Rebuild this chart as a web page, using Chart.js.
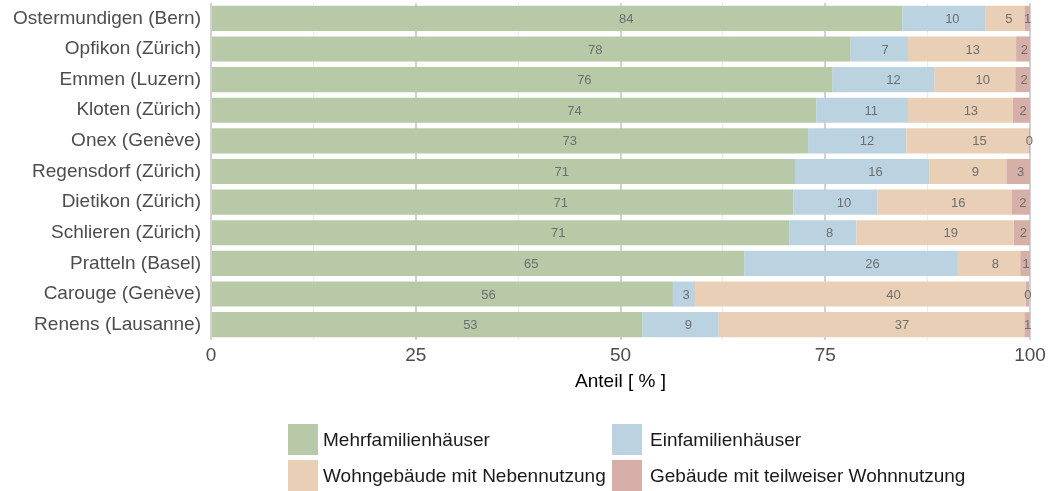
<!DOCTYPE html>
<html>
<head>
<meta charset="utf-8">
<script src="https://cdn.jsdelivr.net/npm/chart.js@4"></script>
<style>
  body { margin: 0; background: #fff; font-family: "Liberation Sans", Arial, sans-serif; }
  #wrap { position: relative; width: 1049px; height: 491px; }
  .lg-box { position: absolute; width: 30px; height: 31px; }
  .lg-txt { position: absolute; font-size: 19px; color: #1a1a1a; line-height: 31px; white-space: nowrap; }
</style>
</head>
<body>
<div id="wrap">
  <canvas id="chart" width="1049" height="491"></canvas>
  <div id="legend"></div>
</div>
<script>
const categories = [
  'Ostermundigen (Bern)', 'Opfikon (Zürich)', 'Emmen (Luzern)', 'Kloten (Zürich)',
  'Onex (Genève)', 'Regensdorf (Zürich)', 'Dietikon (Zürich)', 'Schlieren (Zürich)',
  'Pratteln (Basel)', 'Carouge (Genève)', 'Renens (Lausanne)'
];
const mehrfamilien = [84.4, 78.1, 75.9, 73.9, 72.9, 71.3, 71.1, 70.6, 65.1, 56.4, 52.7];
const einfamilien = [10.2, 7.0, 12.4, 11.2, 12.0, 16.4, 10.3, 8.2, 26.1, 2.7, 9.3];
const nebennutzung = [4.7, 13.2, 9.9, 12.8, 14.9, 9.4, 16.4, 19.2, 7.6, 40.4, 37.3];
const teilweise = [0.7, 1.7, 1.8, 2.1, 0.2, 2.9, 2.2, 2.0, 1.2, 0.4, 0.7];
const xTicks = [0, 25, 50, 75, 100];

const seriesNames = ['Mehrfamilienhäuser', 'Einfamilienhäuser', 'Wohngebäude mit Nebennutzung', 'Gebäude mit teilweiser Wohnnutzung'];
const seriesColors = ['#b8c9a7', '#bbd3e1', '#e8cfb6', '#d6b0a8'];
const seriesData = [mehrfamilien, einfamilien, nebennutzung, teilweise];

const FONT = '"Liberation Sans", Arial, sans-serif';

// value labels, placed at 60% of each segment like the original
const barLabels = {
  id: 'barLabels',
  afterDatasetsDraw(chart) {
    const ctx = chart.ctx;
    ctx.save();
    ctx.font = '13px ' + FONT;
    ctx.fillStyle = '#6e6e6e';
    ctx.textAlign = 'center';
    ctx.textBaseline = 'middle';
    chart.data.datasets.forEach((ds, i) => {
      chart.getDatasetMeta(i).data.forEach((bar, j) => {
        const x = bar.base + 0.6 * (bar.x - bar.base);
        ctx.fillText(Math.round(ds.data[j]), x, bar.y + 1);
      });
    });
    ctx.restore();
  }
};

const ctx = document.getElementById('chart').getContext('2d');
const chart = new Chart(ctx, {
  type: 'bar',
  data: {
    labels: categories,
    datasets: seriesNames.map((name, i) => ({
      label: name,
      data: seriesData[i],
      backgroundColor: seriesColors[i],
      borderWidth: 0,
      categoryPercentage: 1,
      barPercentage: 0.82
    }))
  },
  options: {
    indexAxis: 'y',
    responsive: false,
    devicePixelRatio: 1,
    animation: false,
    layout: { padding: { top: 3, right: 19, bottom: 95, left: 0 } },
    plugins: {
      legend: { display: false },
      tooltip: { enabled: false }
    },
    scales: {
      x: {
        stacked: true,
        min: 0,
        max: 100,
        afterFit: (s) => { s.height = 56; s.paddingLeft = 0; s.paddingRight = 0; },
        afterBuildTicks: (s) => {
          const t = [];
          for (let v = 0; v <= 100; v += 12.5) t.push({ value: v });
          s.ticks = t;
        },
        ticks: {
          autoSkip: false,
          maxRotation: 0,
          padding: 4,
          color: '#4d4d4d',
          font: { family: FONT, size: 19 },
          callback: (v) => xTicks.includes(v) ? String(v) : ''
        },
        grid: {
          drawTicks: false,
          color: (c) => c.tick && c.tick.value % 25 === 0 ? '#d2d2d2' : '#ececec',
          lineWidth: (c) => c.tick && c.tick.value % 25 === 0 ? 2 : 1
        },
        border: { display: false },
        title: {
          display: true,
          text: 'Anteil [ % ]',
          color: '#000',
          padding: { top: 0, bottom: 3 },
          font: { family: FONT, size: 19 }
        }
      },
      y: {
        stacked: true,
        afterFit: (s) => { s.width = 211; s.paddingTop = 0; s.paddingBottom = 0; },
        ticks: {
          padding: 10,
          color: '#4d4d4d',
          font: { family: FONT, size: 19 }
        },
        grid: { display: false, drawTicks: false },
        border: { display: false }
      }
    }
  },
  plugins: [barLabels]
});

// legend in two columns, as in the original
const legendPos = [[288, 424], [612, 424], [288, 460], [612, 460]];
const legendEl = document.getElementById('legend');
chart.data.datasets.forEach((ds, i) => {
  const [lx, ly] = legendPos[i];
  const box = document.createElement('div');
  box.className = 'lg-box';
  box.style.left = lx + 'px';
  box.style.top = ly + 'px';
  box.style.background = ds.backgroundColor;
  const txt = document.createElement('div');
  txt.className = 'lg-txt';
  txt.style.left = (lx + (i % 2 === 0 ? 35 : 38)) + 'px';
  txt.style.top = ly + 'px';
  txt.textContent = ds.label;
  legendEl.appendChild(box);
  legendEl.appendChild(txt);
});
</script>
</body>
</html>
